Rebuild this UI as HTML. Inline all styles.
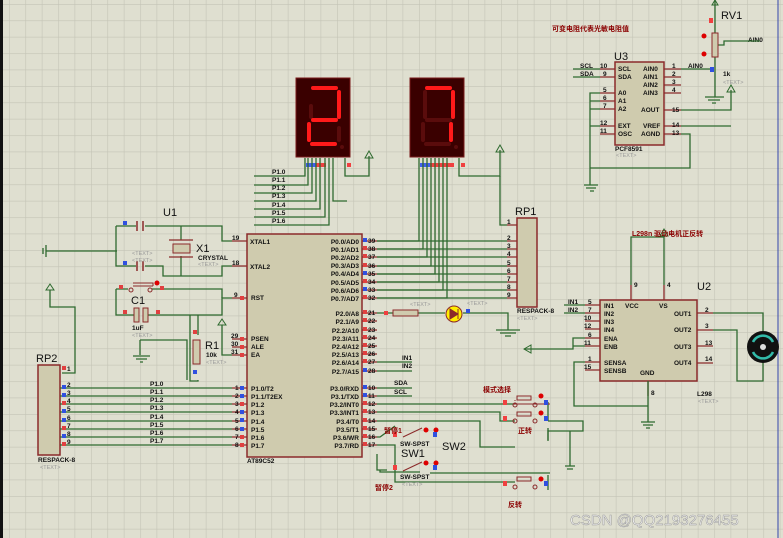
<!DOCTYPE html>
<html><head><meta charset="utf-8"><style>
html,body{margin:0;padding:0;background:#dfdfd0;}
svg{display:block;}
text{font-family:"Liberation Sans","Noto Sans CJK SC",sans-serif;}
.w{stroke:#2f6a2f;stroke-width:1.3;fill:none;}
.p{stroke:#8b2a2a;stroke-width:1.3;fill:none;}
.b{fill:#cfcbae;stroke:#8b2a2a;stroke-width:1.5;}
.t{font-size:6.5px;font-weight:bold;fill:#111;}
.n{font-size:6.5px;font-weight:bold;fill:#111;}
.g{font-size:5.5px;fill:#999;}
.big{font-size:11px;fill:#111;}
.cn{font-size:7px;font-weight:bold;fill:#8b0000;}
</style></head><body>
<svg width="783" height="538" viewBox="0 0 783 538" xmlns="http://www.w3.org/2000/svg">
<defs>
<pattern id="gr" x="9" y="4" width="16.4" height="16.4" patternUnits="userSpaceOnUse">
<path d="M0 0V16.4M0 0H16.4" stroke="#c4c4b6" stroke-width="1.2"/>
</pattern>
</defs>
<rect width="783" height="538" fill="#dfdfd0"/>
<rect width="783" height="538" fill="url(#gr)"/>
<rect x="0" y="0" width="3" height="538" fill="#111"/>
<line x1="778" y1="0" x2="778" y2="538" stroke="#3344aa" stroke-width="1"/>

<!-- AT89C52 -->
<rect class="b" x="247" y="234" width="115" height="223"/>
<text class="big" x="163" y="216">U1</text>
<text class="t" x="250" y="244">XTAL1</text>
<text class="t" x="250" y="269">XTAL2</text>
<text class="t" x="251" y="300">RST</text>
<text class="t" x="251" y="341">PSEN</text>
<text class="t" x="251" y="349">ALE</text>
<text class="t" x="251" y="357">EA</text>
<g class="t">
<text x="251" y="391">P1.0/T2</text><text x="251" y="399">P1.1/T2EX</text><text x="251" y="407">P1.2</text><text x="251" y="415">P1.3</text><text x="251" y="424">P1.4</text><text x="251" y="432">P1.5</text><text x="251" y="440">P1.6</text><text x="251" y="448">P1.7</text>
</g>
<g class="t" text-anchor="end">
<text x="359" y="244">P0.0/AD0</text><text x="359" y="252">P0.1/AD1</text><text x="359" y="260">P0.2/AD2</text><text x="359" y="268">P0.3/AD3</text><text x="359" y="276">P0.4/AD4</text><text x="359" y="285">P0.5/AD5</text><text x="359" y="293">P0.6/AD6</text><text x="359" y="301">P0.7/AD7</text>
<text x="359" y="316">P2.0/A8</text><text x="359" y="324">P2.1/A9</text><text x="359" y="333">P2.2/A10</text><text x="359" y="341">P2.3/A11</text><text x="359" y="349">P2.4/A12</text><text x="359" y="357">P2.5/A13</text><text x="359" y="365">P2.6/A14</text><text x="359" y="374">P2.7/A15</text>
<text x="359" y="391">P3.0/RXD</text><text x="359" y="399">P3.1/TXD</text><text x="359" y="407">P3.2/INT0</text><text x="359" y="415">P3.3/INT1</text><text x="359" y="424">P3.4/T0</text><text x="359" y="432">P3.5/T1</text><text x="359" y="440">P3.6/WR</text><text x="359" y="448">P3.7/RD</text>
</g>
<text class="t" x="247" y="463">AT89C52</text>
<!-- left pins -->
<g class="p">
<path d="M232 241H247M232 266H247M232 298H247M232 339H247M232 347H247M232 355H247"/>
<path d="M232 388H247M232 396H247M232 404H247M232 412H247M232 421H247M232 429H247M232 437H247M232 445H247"/>
<path d="M362 241H377M362 249H377M362 257H377M362 266H377M362 274H377M362 282H377M362 290H377M362 298H377"/>
<path d="M362 313H377M362 321H377M362 330H377M362 338H377M362 346H377M362 354H377M362 362H377M362 371H377"/>
<path d="M362 388H377M362 396H377M362 404H377M362 412H377M362 421H377M362 429H377M362 437H377M362 445H377"/>
</g>
<g class="n">
<text x="232" y="240">19</text><text x="232" y="265">18</text><text x="234" y="297">9</text><text x="231" y="338">29</text><text x="231" y="346">30</text><text x="231" y="354">31</text>
<text x="235" y="390">1</text><text x="235" y="398">2</text><text x="235" y="406">3</text><text x="235" y="414">4</text><text x="235" y="423">5</text><text x="235" y="431">6</text><text x="235" y="439">7</text><text x="235" y="447">8</text>
<text x="368" y="243">39</text><text x="368" y="251">38</text><text x="368" y="259">37</text><text x="368" y="268">36</text><text x="368" y="276">35</text><text x="368" y="284">34</text><text x="368" y="292">33</text><text x="368" y="300">32</text>
<text x="368" y="315">21</text><text x="368" y="323">22</text><text x="368" y="332">23</text><text x="368" y="340">24</text><text x="368" y="348">25</text><text x="368" y="356">26</text><text x="368" y="364">27</text><text x="368" y="373">28</text>
<text x="368" y="390">10</text><text x="368" y="398">11</text><text x="368" y="406">12</text><text x="368" y="414">13</text><text x="368" y="423">14</text><text x="368" y="431">15</text><text x="368" y="439">16</text><text x="368" y="447">17</text>
</g>
<g fill="#e04040">
<rect x="363" y="310" width="4" height="4"/><rect x="363" y="318" width="4" height="4"/><rect x="363" y="327" width="4" height="4"/><rect x="363" y="335" width="4" height="4"/><rect x="363" y="343" width="4" height="4"/><rect x="363" y="351" width="4" height="4"/><rect x="363" y="359" width="4" height="4"/>
<rect x="363" y="246" width="4" height="4"/><rect x="363" y="254" width="4" height="4"/><rect x="363" y="263" width="4" height="4"/><rect x="363" y="279" width="4" height="4"/><rect x="363" y="295" width="4" height="4"/>
<rect x="363" y="401" width="4" height="4"/><rect x="363" y="409" width="4" height="4"/><rect x="363" y="418" width="4" height="4"/><rect x="363" y="426" width="4" height="4"/><rect x="363" y="434" width="4" height="4"/><rect x="363" y="442" width="4" height="4"/>
<rect x="240" y="296" width="4" height="4"/><rect x="240" y="337" width="4" height="4"/><rect x="240" y="345" width="4" height="4"/><rect x="240" y="353" width="4" height="4"/><rect x="240" y="402" width="4" height="4"/><rect x="240" y="435" width="4" height="4"/><rect x="240" y="443" width="4" height="4"/>
</g>
<g fill="#3050e0">
<rect x="363" y="238" width="4" height="4"/><rect x="363" y="271" width="4" height="4"/><rect x="363" y="287" width="4" height="4"/><rect x="363" y="368" width="4" height="4"/><rect x="363" y="385" width="4" height="4"/><rect x="363" y="393" width="4" height="4"/>
<rect x="240" y="386" width="4" height="4"/><rect x="240" y="394" width="4" height="4"/><rect x="240" y="410" width="4" height="4"/><rect x="240" y="418" width="4" height="4"/><rect x="240" y="427" width="4" height="4"/>
</g>

<!-- crystal & caps -->
<g class="w">
<path d="M116 226H136M145 226H222V241H232"/>
<path d="M116 226V266H136M145 266H163V276H222V266H232"/>
<path d="M46 251H117"/>
<path d="M181 226V240M181 256V276"/>
<path d="M116 289V315H135M148 315H222V298H232"/>
<path d="M116 289H128M152 289H222V298"/>
<path d="M50 290V307H75V373H62"/>
<path d="M198 315V335M198 380V381H190V315"/>
<path d="M140 340H187V380"/>
<path d="M140 340V355"/>
<path d="M222 325V355H232"/>
</g>
<path d="M46 245V257M43 248V254" stroke="#2f6a2f" stroke-width="1.3"/>
<path d="M137 221V231M143 221V231M137 261V271M143 261V271" stroke="#8b2a2a" stroke-width="1.5"/>
<rect x="173" y="244" width="17" height="9" fill="#cfcbae" stroke="#8b2a2a"/>
<path d="M169 240H193M169 257H193" stroke="#8b2a2a" stroke-width="1.3"/>
<rect x="134" y="308" width="5" height="14" fill="#cfcbae" stroke="#8b2a2a"/>
<rect x="143" y="308" width="5" height="14" fill="#cfcbae" stroke="#8b2a2a"/>
<rect x="193" y="340" width="7" height="24" fill="#cfcbae" stroke="#8b2a2a"/>
<path d="M133 283H153V286M133 286H153" stroke="#8b2a2a" fill="none"/>
<circle cx="131" cy="290" r="2" fill="none" stroke="#8b2a2a"/><circle cx="150" cy="290" r="2" fill="none" stroke="#8b2a2a"/>
<circle cx="157" cy="283" r="2.5" fill="#d00"/>
<path d="M133 356H150M136 359H147M140 362H143" stroke="#2f6a2f" stroke-width="1.3"/>
<path d="M50 284L46 290H54Z M222 319L218 325H226Z" fill="none" stroke="#2f6a2f"/>
<text class="big" x="196" y="252">X1</text><text class="t" x="198" y="260">CRYSTAL</text>
<text class="big" x="131" y="304">C1</text><text class="t" x="132" y="330">1uF</text>
<text class="big" x="205" y="349">R1</text><text class="t" x="206" y="357">10k</text>
<text class="g" x="132" y="255">&lt;TEXT&gt;</text><text class="g" x="132" y="262">&lt;TEXT&gt;</text><text class="g" x="198" y="266">&lt;TEXT&gt;</text><text class="g" x="132" y="337">&lt;TEXT&gt;</text><text class="g" x="206" y="364">&lt;TEXT&gt;</text>
<g fill="#e04040"><rect x="119" y="285" width="4" height="4"/><rect x="160" y="286" width="4" height="4"/><rect x="123" y="310" width="4" height="4"/><rect x="156" y="310" width="4" height="4"/><rect x="193" y="330" width="4" height="4"/></g>
<g fill="#3050e0"><rect x="123" y="221" width="4" height="4"/><rect x="123" y="261" width="4" height="4"/><rect x="193" y="370" width="4" height="4"/></g>

<!-- RP2 -->
<rect class="b" x="38" y="365" width="22" height="90"/>
<text class="big" x="36" y="362">RP2</text>
<text class="t" x="38" y="462">RESPACK-8</text><text class="g" x="40" y="469">&lt;TEXT&gt;</text>
<g class="w">
<path d="M60 388H232M60 396H232M60 404H232M60 412H232M60 421H232M60 429H232M60 437H232M60 445H232"/>
</g>
<g class="n"><text x="67" y="371">1</text><text x="67" y="387">2</text><text x="67" y="395">3</text><text x="67" y="403">4</text><text x="67" y="411">5</text><text x="67" y="420">6</text><text x="67" y="428">7</text><text x="67" y="436">8</text><text x="67" y="444">9</text>
<text x="150" y="386">P1.0</text><text x="150" y="394">P1.1</text><text x="150" y="402">P1.2</text><text x="150" y="410">P1.3</text><text x="150" y="419">P1.4</text><text x="150" y="427">P1.5</text><text x="150" y="435">P1.6</text><text x="150" y="443">P1.7</text></g>
<g fill="#3050e0"><rect x="62" y="385" width="4" height="4"/><rect x="62" y="393" width="4" height="4"/><rect x="62" y="409" width="4" height="4"/><rect x="62" y="418" width="4" height="4"/><rect x="62" y="434" width="4" height="4"/></g>
<g fill="#e04040"><rect x="62" y="366" width="4" height="4"/><rect x="62" y="401" width="4" height="4"/><rect x="62" y="426" width="4" height="4"/><rect x="62" y="442" width="4" height="4"/></g>

<!-- 7-seg 1 -->
<rect x="296" y="78" width="54" height="79" fill="#3a0000" stroke="#7a1a1a"/>
<g stroke="#5a0c0c" stroke-width="4" stroke-linecap="round" fill="none">
<path d="M311 106V117"/>
<path d="M339 128V140"/>
</g>
<g stroke="#ff1a1a" stroke-width="4" stroke-linecap="round" fill="none">
<path d="M313 88H336M339 92V117M313 120H336M309 124V140M312 144H335"/>
</g>
<circle cx="342" cy="147" r="2" fill="#5a0c0c"/>
<!-- 7-seg 2 -->
<rect x="410" y="78" width="54" height="79" fill="#3a0000" stroke="#7a1a1a"/>
<g stroke="#5a0c0c" stroke-width="4" stroke-linecap="round" fill="none">
<path d="M425 92V117M427 120H450M423 124V140M426 144H449"/>
</g>
<g stroke="#ff1a1a" stroke-width="4" stroke-linecap="round" fill="none">
<path d="M427 88H450M453 92V117M451 124V140"/>
</g>
<circle cx="456" cy="147" r="2" fill="#5a0c0c"/>
<rect x="306" y="163" width="10" height="4" fill="#4060f0"/><rect x="316" y="163" width="10" height="4" fill="#f04040"/>
<rect x="420" y="163" width="10" height="4" fill="#4060f0"/><rect x="430" y="163" width="24" height="4" fill="#f04040"/>
<rect x="347" y="163" width="4" height="4" fill="#f04040"/><rect x="461" y="163" width="4" height="4" fill="#f04040"/>
<g class="w">
<path d="M305 158V176H254M308 158V185H254M312 158V193H254M316 158V201H254M320 158V209H254M325 158V217H254M329 158V225H254M333 158V201H347"/>
<path d="M345 158V176H369V156"/>
<path d="M459 158V176H500V150"/>
<path d="M419 158V241H377M423 158V249H377M427 158V257H377M431 158V266H377M435 158V274H377M439 158V282H377M443 158V290H377M447 158V298H377"/>
<path d="M377 241H507M377 249H507M377 257H507M377 266H507M377 274H507M377 282H507M377 290H507M377 298H507"/>
<path d="M500 176V225H507"/>
</g>
<g class="t"><text x="272" y="174">P1.0</text><text x="272" y="182">P1.1</text><text x="272" y="190">P1.2</text><text x="272" y="198">P1.3</text><text x="272" y="207">P1.4</text><text x="272" y="215">P1.5</text><text x="272" y="223">P1.6</text></g>
<path d="M369 151L365 158H373ZM500 145L496 152H504Z" fill="none" stroke="#2f6a2f"/>

<!-- RP1 -->
<rect class="b" x="517" y="218" width="20" height="89"/>
<text class="big" x="515" y="215">RP1</text>
<text class="t" x="517" y="313">RESPACK-8</text><text class="g" x="517" y="320">&lt;TEXT&gt;</text>
<path class="p" d="M507 225H517M507 241H517M507 249H517M507 257H517M507 266H517M507 274H517M507 282H517M507 290H517M507 298H517"/>
<g class="n"><text x="507" y="224">1</text><text x="507" y="240">2</text><text x="507" y="248">3</text><text x="507" y="256">4</text><text x="507" y="265">5</text><text x="507" y="273">6</text><text x="507" y="281">7</text><text x="507" y="289">8</text><text x="507" y="297">9</text></g>

<!-- LED & resistor -->
<path class="w" d="M377 313H393M418 313H445M463 313H508V330M496 330H520M500 333H516M505 336H511"/>
<rect x="393" y="310" width="25" height="6" fill="#cfcbae" stroke="#8b2a2a"/>
<circle cx="454" cy="314" r="8" fill="#ffee00" stroke="#8b2a2a"/>
<path d="M450 309V319L458 314ZM458 309V319" fill="#8b2a2a" stroke="#8b2a2a"/>
<rect x="466" y="309" width="4" height="4" fill="#3050e0"/><rect x="384" y="311" width="4" height="4" fill="#f04040"/>
<text class="g" x="410" y="306">&lt;TEXT&gt;</text><text class="g" x="467" y="305">&lt;TEXT&gt;</text>

<!-- P2 / P3 wires -->
<g class="w">
<path d="M377 362H412M377 371H412M377 388H412M377 396H412"/>
<path d="M377 404H515M377 412H500V421H515M377 421H480V447H515M377 437H380L395 426M377 445H395V482H515"/>
<path d="M377 454V470H387L380 470V472H420M430 473H550"/>
<path d="M548 402V421M548 421H583V431H548M548 428V441M570 431V466M565 466H575M567 469H573"/>
<path d="M548 475V490M548 430V440"/>
</g>
<g class="t"><text x="402" y="360">IN1</text><text x="402" y="368">IN2</text><text x="394" y="385">SDA</text><text x="394" y="394">SCL</text></g>
<!-- buttons -->
<g stroke="#8b2a2a" fill="none">
<rect x="517" y="396" width="14" height="4"/><path d="M515 400V401M513 404H550"/>
<rect x="517" y="412" width="14" height="4"/>
<rect x="517" y="477" width="14" height="4"/>
<circle cx="515" cy="405" r="2"/><circle cx="535" cy="405" r="2"/><circle cx="515" cy="421" r="2"/><circle cx="535" cy="421" r="2"/><circle cx="515" cy="487" r="2"/><circle cx="535" cy="487" r="2"/>
<path d="M403 437L422 428M403 471L422 462"/>
</g>
<g fill="#d00"><circle cx="541" cy="396" r="2.5"/><circle cx="541" cy="413" r="2.5"/><circle cx="541" cy="479" r="2.5"/><circle cx="426" cy="430" r="2.5"/><circle cx="436" cy="430" r="2.5"/><circle cx="426" cy="463" r="2.5"/><circle cx="436" cy="463" r="2.5"/></g>
<g fill="#3050e0"><rect x="544" y="400" width="4" height="5"/><rect x="544" y="416" width="4" height="5"/><rect x="544" y="481" width="4" height="5"/><rect x="433" y="432" width="4" height="5"/><rect x="433" y="465" width="4" height="5"/></g>
<g fill="#f04040"><rect x="503" y="400" width="4" height="5"/><rect x="503" y="416" width="4" height="5"/><rect x="503" y="481" width="4" height="5"/><rect x="393" y="432" width="4" height="5"/><rect x="393" y="465" width="4" height="5"/></g>
<text class="cn" x="483" y="392">模式选择</text><text class="cn" x="518" y="433">正转</text><text class="cn" x="508" y="507">反转</text>
<text class="cn" x="384" y="433">暂停1</text><text class="cn" x="375" y="490">暂停2</text>
<text class="t" x="400" y="446">SW-SPST</text><text class="t" x="400" y="479">SW-SPST</text><text class="g" x="402" y="486">&lt;TEXT&gt;</text>
<text class="big" x="401" y="457">SW1</text><text class="big" x="442" y="450">SW2</text>

<!-- U2 L298 -->
<rect class="b" x="600" y="300" width="97" height="81"/>
<text class="big" x="697" y="290">U2</text>
<g class="t"><text x="604" y="308">IN1</text><text x="604" y="316">IN2</text><text x="604" y="324">IN3</text><text x="604" y="332">IN4</text><text x="604" y="341">ENA</text><text x="604" y="349">ENB</text><text x="604" y="365">SENSA</text><text x="604" y="373">SENSB</text>
<text x="625" y="308">VCC</text><text x="659" y="308">VS</text><text x="640" y="375">GND</text>
<text x="674" y="316">OUT1</text><text x="674" y="332">OUT2</text><text x="674" y="349">OUT3</text><text x="674" y="365">OUT4</text>
<text x="697" y="396">L298</text></g><text class="g" x="698" y="403">&lt;TEXT&gt;</text>
<path class="p" d="M585 305H600M585 313H600M585 321H600M585 329H600M585 338H600M585 346H600M585 362H600M585 370H600M697 313H713M697 330H713M697 346H713M697 363H713M631 285V300M664 285V300M648 381V396"/>
<g class="n"><text x="588" y="304">5</text><text x="588" y="312">7</text><text x="584" y="320">10</text><text x="584" y="328">12</text><text x="588" y="337">6</text><text x="584" y="345">11</text><text x="588" y="361">1</text><text x="584" y="369">15</text>
<text x="705" y="312">2</text><text x="705" y="328">3</text><text x="705" y="345">13</text><text x="705" y="361">14</text><text x="634" y="287">9</text><text x="667" y="287">4</text><text x="651" y="395">8</text></g>
<g class="w"><path d="M564 305H585M564 313H585M585 338H573V349H524M573 346H585M585 362H574V406H648M648 381V422M641 422H655M643 425H653M646 428H650"/>
<path d="M631 285V237H664V285M664 237V232"/>
<path d="M713 313H763V331M713 330H737V381H763V363"/></g>
<path d="M524 349L531 345V353Z M664 229L660 236H668Z" fill="none" stroke="#2f6a2f"/>
<g class="t"><text x="568" y="304">IN1</text><text x="568" y="312">IN2</text></g>
<circle cx="763" cy="347" r="16" fill="#111"/>
<circle cx="763" cy="347" r="3" fill="#ddd"/>
<path d="M753 342A11 11 0 0 1 773 342M753 352A11 11 0 0 0 773 352" stroke="#33bbaa" stroke-width="2.5" fill="none"/>
<text class="cn" x="632" y="236">L298n 驱动电机正反转</text>

<!-- U3 PCF8591 -->
<rect class="b" x="615" y="62" width="49" height="83"/>
<text class="big" x="614" y="60">U3</text>
<g class="t"><text x="618" y="71">SCL</text><text x="618" y="79">SDA</text><text x="618" y="95">A0</text><text x="618" y="103">A1</text><text x="618" y="111">A2</text><text x="618" y="128">EXT</text><text x="618" y="136">OSC</text>
<text x="643" y="71">AIN0</text><text x="643" y="79">AIN1</text><text x="643" y="87">AIN2</text><text x="643" y="95">AIN3</text><text x="641" y="112">AOUT</text><text x="643" y="128">VREF</text><text x="641" y="136">AGND</text>
<text x="615" y="151">PCF8591</text></g><text class="g" x="616" y="157">&lt;TEXT&gt;</text>
<path class="p" d="M600 69H615M600 77H615M600 93H615M600 101H615M600 109H615M600 126H615M600 134H615M664 69H681M664 77H681M664 85H681M664 93H681M664 110H681M664 126H681M664 134H681"/>
<g class="n"><text x="580" y="68">SCL</text><text x="580" y="76">SDA</text><text x="600" y="68">10</text><text x="603" y="76">9</text><text x="603" y="92">5</text><text x="603" y="100">6</text><text x="603" y="108">7</text><text x="600" y="125">12</text><text x="600" y="133">11</text>
<text x="672" y="68">1</text><text x="672" y="76">2</text><text x="672" y="84">3</text><text x="672" y="92">4</text><text x="672" y="112">15</text><text x="672" y="127">14</text><text x="672" y="135">13</text><text x="688" y="68">AIN0</text><text x="748" y="42">AIN0</text><text x="723" y="76">1k</text></g>
<g class="w"><path d="M573 69H600M573 77H600M600 93H590V185M584 185H598M586 188H596M590 191H594M590 101H600M590 109H600M590 126H600M590 168H690V134H681M681 69H710M681 110H731V90M681 126H731"/>
<path d="M715 0V33M715 57V97M705 97H724M708 100H720M712 103H716M717 45H724V41H760"/></g>
<rect x="712" y="33" width="6" height="24" fill="#cfcbae" stroke="#8b2a2a"/>
<path d="M731 85L727 92H735ZM715 0L712 5H718Z" fill="none" stroke="#2f6a2f"/>
<text class="big" x="721" y="19">RV1</text><text class="g" x="723" y="84">&lt;TEXT&gt;</text>
<g fill="#d00"><circle cx="704" cy="36" r="2.5"/><circle cx="704" cy="54" r="2.5"/></g>
<rect x="709" y="18" width="4" height="5" fill="#f04040"/><rect x="710" y="67" width="4" height="5" fill="#3050e0"/>
<text class="cn" x="552" y="31">可变电阻代表光敏电阻值</text>

<text x="570" y="525" font-size="15" fill="#f2f2f2" stroke="#9a9a9a" stroke-width="0.5" style="font-family:'Liberation Sans',sans-serif">CSDN @QQ2193276455</text>
</svg>
</body></html>
